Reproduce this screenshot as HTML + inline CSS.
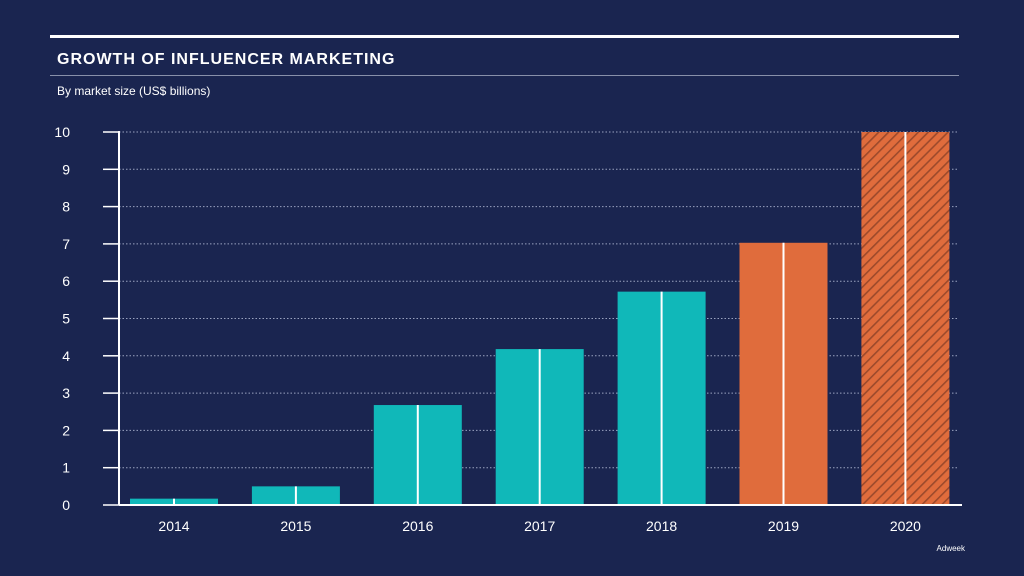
<!DOCTYPE html>
<html><head><meta charset="utf-8"><style>
html,body{margin:0;padding:0;background:#1a2550;}
svg{display:block;font-family:"Liberation Sans",sans-serif;}
</style></head><body>
<svg width="1024" height="576" viewBox="0 0 1024 576">
<defs><pattern id="hatch" patternUnits="userSpaceOnUse" width="7" height="7" patternTransform="rotate(45)">
<rect width="7" height="7" fill="#e06c3c"/><rect x="0" width="1.6" height="7" fill="#9c4a2c"/></pattern></defs>
<rect width="1024" height="576" fill="#1a2550"/>
<rect x="50" y="35" width="909" height="3" fill="#fff"/>
<text x="57" y="64" fill="#fff" font-size="16" font-weight="bold" letter-spacing="1">GROWTH OF INFLUENCER MARKETING</text>
<rect x="50" y="75" width="909" height="1" fill="#8890aa"/>
<text x="57" y="95" fill="#fff" font-size="12">By market size (US$ billions)</text>
<g id="grid"></g><g id="bars"></g><g id="axes"></g>
<text x="965" y="551" fill="#fff" font-size="8" text-anchor="end">Adweek</text>
</svg>
<script>
const categories=["2014","2015","2016","2017","2018","2019","2020"];
const values=[0.17,0.5,2.68,4.18,5.72,7.03,10];
const projected=[false,false,false,false,false,true,true];
const yTicks=[0,1,2,3,4,5,6,7,8,9,10];
const NS="http://www.w3.org/2000/svg";
const y0=505,y1=132,ymax=10,xL=119,xR=958,x0=174,step=121.9,bw=88;
const y=v=>y0-(y0-y1)*v/ymax;
const x=i=>x0+i*step;
function mk(tag,attrs,parent,text){const e=document.createElementNS(NS,tag);for(const k in attrs)e.setAttribute(k,attrs[k]);if(text!=null)e.textContent=text;parent.appendChild(e);return e;}
const grid=document.getElementById('grid'),bars=document.getElementById('bars'),axes=document.getElementById('axes');
yTicks.forEach(t=>{
 if(t>0){const g=mk('line',{x1:xL,x2:xR,y1:y(t),y2:y(t),stroke:'#9aa3c0','stroke-width':1,'stroke-dasharray':'1.5 2'},grid);
 
 }
 const tk=mk('line',{x1:103,x2:xL,y1:y(t),y2:y(t),stroke:'#fff','stroke-width':1.5},axes);
 
 
 const tl=mk('text',{x:70,y:y(t)+5,fill:'#fff','font-size':14,'text-anchor':'end'},axes,t);
 
 
});
categories.forEach((c,i)=>{
 const fill=projected[i]?(i===categories.length-1?'url(#hatch)':'#e06c3c'):'#10b8b9';
 const r=mk('rect',{x:x(i)-bw/2,y:y(values[i]),width:bw,height:y0-y(values[i]),fill:fill},bars);
 
 
 const l=mk('line',{x1:x(i),x2:x(i),y1:y(values[i]),y2:y0,stroke:'#fff','stroke-width':2},bars);
 
 
 const t=mk('text',{x:x(i),y:531,fill:'#fff','font-size':14,'text-anchor':'middle'},axes,c);
 
 
});
const ya=mk('line',{x1:xL,x2:xL,y1:y1-1,y2:y0,stroke:'#fff','stroke-width':2},axes);


const xa=mk('line',{x1:xL,x2:962,y1:y0,y2:y0,stroke:'#fff','stroke-width':2},axes);


</script>
</body></html>
